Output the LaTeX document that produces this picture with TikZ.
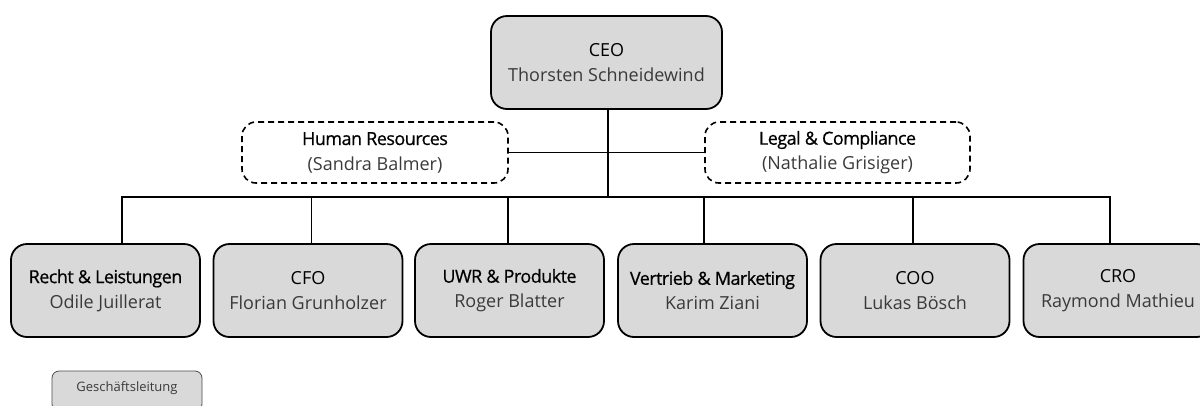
\documentclass[tikz,border=0pt]{standalone}
\usepackage{fontspec}
\setmainfont{Open Sans}
\newfontfamily\semititle{Open Sans}[FakeBold=0.6, LetterSpace=-3]
\definecolor{boxfill}{HTML}{D9D9D9}
\definecolor{nametext}{HTML}{3A3A3A}
\begin{document}
\begin{tikzpicture}[x=1pt,y=-1pt,
  orgbox/.style={draw=black, line width=1.8pt, fill=boxfill, rounded corners=16pt,
    minimum width=#1, align=center, inner sep=0pt, font=\fontsize{18}{25}\selectfont},
  orgbox/.default=189pt,
  staffbox/.style={draw=black, line width=1.6pt, dashed, dash pattern=on 6pt off 4pt, rounded corners=14pt,
    minimum width=266pt, minimum height=61pt, align=center, inner sep=0pt, font=\fontsize{18}{25}\selectfont},
  conn/.style={draw=black, line width=1.8pt}
]
\useasboundingbox (0,0) rectangle (1200,405);

\node[orgbox=231pt, minimum height=93pt] (ceo) at (606.5,62.5) {CEO\\{\color{nametext}Thorsten Schneidewind}};

\node[staffbox] (hr) at (375,152.5) {{\semititle Human Resources}\\{\color{nametext}(Sandra Balmer)}};
\node[staffbox, minimum width=265pt] (legal) at (837.5,152.5) {{\semititle Legal \& Compliance}\\{\color{nametext}(Nathalie Grisiger)}};

\node[orgbox, minimum height=93pt] (b1) at (105.5,290.5) {{\semititle Recht \& Leistungen}\\{\color{nametext}Odile Juillerat}};
\node[orgbox, minimum height=93pt] (b2) at (308,290.5) {CFO\\{\color{nametext}Florian Grunholzer}};
\node[orgbox, minimum height=93pt] (b3) at (509.5,290.5) {{\semititle UWR \& Produkte}\\{\color{nametext}Roger Blatter}};
\node[orgbox, minimum height=93pt] (b4) at (712.5,290.5) {{\semititle Vertrieb \& Marketing}\\{\color{nametext}Karim Ziani}};
\node[orgbox, minimum height=93pt] (b5) at (915,290.5) {COO\\{\color{nametext}Lukas Bösch}};
\node[orgbox, minimum height=93pt] (b6) at (1118,290.5) {CRO\\{\color{nametext}Raymond Mathieu}};

\node[draw=black!70, line width=0.8pt, fill=boxfill, rounded corners=7pt, minimum width=150pt,
  minimum height=40pt, inner sep=0pt] (legend) at (127,391) {};
\node[font=\fontsize{13}{15}\selectfont, text=nametext] (legendtxt) at (127,388) {Geschäftsleitung};

% connectors
\coordinate (bus) at (608,197);
\draw[conn] ([xshift=1.5pt]ceo.south) -- (bus);
\draw[conn] (hr.east) -- (legal.west);
\draw[conn] ([xshift=16.5pt]b1.north) |- ([xshift=-8pt]b6.north |- bus) -- ([xshift=-8pt]b6.north);
\draw[conn] ([xshift=3.5pt]b2.north) -- ([xshift=3.5pt]b2.north |- bus);
\draw[conn] ([xshift=-1.5pt]b3.north) -- ([xshift=-1.5pt]b3.north |- bus);
\draw[conn] ([xshift=-8.5pt]b4.north) -- ([xshift=-8.5pt]b4.north |- bus);
\draw[conn] ([xshift=-2pt]b5.north) -- ([xshift=-2pt]b5.north |- bus);
\end{tikzpicture}
\end{document}
